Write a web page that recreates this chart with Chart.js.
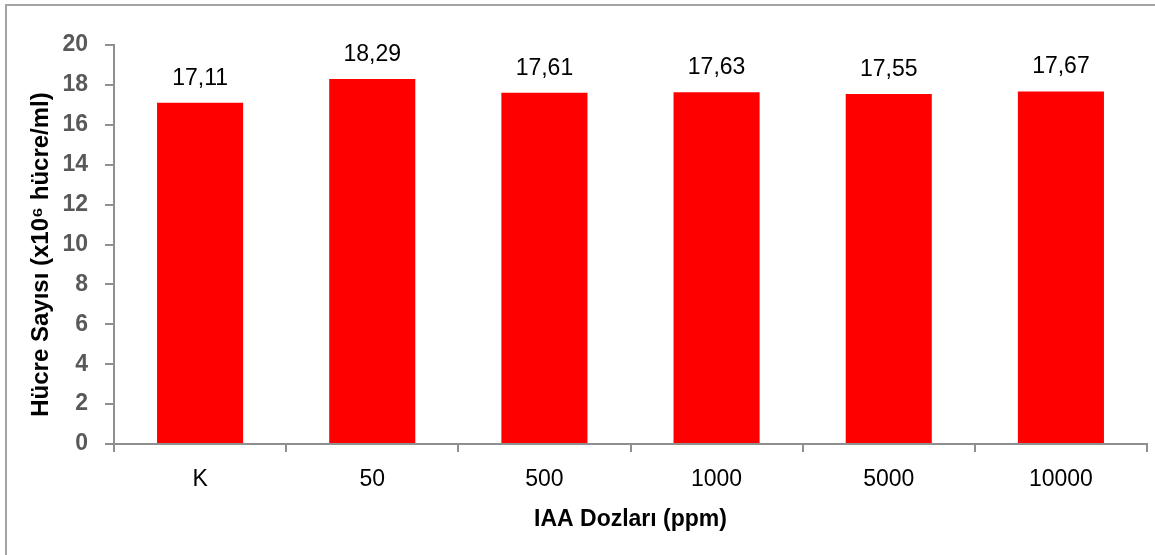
<!DOCTYPE html>
<html>
<head>
<meta charset="utf-8">
<script src="https://cdn.jsdelivr.net/npm/chart.js@4/dist/chart.umd.min.js"></script>
<style>
  html, body { margin: 0; padding: 0; background: #ffffff; }
  canvas { display: block; }
</style>
</head>
<body>
<canvas id="chart" width="1155" height="555"></canvas>
<script>
// IAA dose groups and measured cell counts (x10^6 cells/ml)
const doses = ['K', '50', '500', '1000', '5000', '10000'];
const cellCounts = [17.11, 18.29, 17.61, 17.63, 17.55, 17.67];
const yTickValues = [0, 2, 4, 6, 8, 10, 12, 14, 16, 18, 20];
const yAxisTitle = 'Hücre Sayısı (x10⁶ hücre/ml)';

const FONT = '"Liberation Sans", Arial, sans-serif';
const AXIS_GRAY = '#8f8f8f';

// white background and the frame around the chart
const framePlugin = {
  id: 'frame',
  beforeDraw(chart) {
    const ctx = chart.ctx;
    ctx.save();
    ctx.fillStyle = '#ffffff';
    ctx.fillRect(0, 0, chart.width, chart.height);
    ctx.strokeStyle = '#a3a3a3';
    ctx.lineWidth = 2;
    ctx.strokeRect(6, 5, chart.width + 20, chart.height + 20);
    ctx.restore();
  }
};

// rotated y-axis title, centred a little below the plot middle
const yTitlePlugin = {
  id: 'yTitle',
  afterDraw(chart) {
    const ctx = chart.ctx;
    const area = chart.chartArea;
    ctx.save();
    ctx.translate(41, (area.top + area.bottom) / 2 + 10);
    ctx.rotate(-Math.PI / 2);
    ctx.font = 'bold 24px ' + FONT;
    ctx.fillStyle = '#000000';
    ctx.textAlign = 'center';
    ctx.textBaseline = 'middle';
    ctx.fillText(yAxisTitle, 0, 0);
    ctx.restore();
  }
};

// value labels above each bar, with decimal comma
const valueLabels = {
  id: 'valueLabels',
  afterDatasetsDraw(chart) {
    const ctx = chart.ctx;
    const meta = chart.getDatasetMeta(0);
    const values = chart.data.datasets[0].data;
    ctx.save();
    ctx.font = '23px ' + FONT;
    ctx.fillStyle = '#000000';
    ctx.textAlign = 'center';
    ctx.textBaseline = 'alphabetic';
    meta.data.forEach((bar, i) => {
      const text = values[i].toFixed(2).replace('.', ',');
      ctx.fillText(text, bar.x, bar.y - 18);
    });
    ctx.restore();
  }
};

new Chart(document.getElementById('chart'), {
  type: 'bar',
  data: {
    labels: doses,
    datasets: [{
      data: cellCounts,
      backgroundColor: '#ff0000',
      borderWidth: 0,
      barPercentage: 0.5,
      categoryPercentage: 1.0
    }]
  },
  options: {
    responsive: false,
    animation: false,
    events: [],
    layout: { padding: { top: 45, right: 8, bottom: 0, left: 0 } },
    plugins: {
      legend: { display: false },
      tooltip: { enabled: false }
    },
    scales: {
      x: {
        offset: true,
        afterFit(scale) { scale.height = 111; },
        grid: {
          offset: true,
          drawOnChartArea: false,
          drawTicks: true,
          tickLength: 8,
          color: AXIS_GRAY,
          lineWidth: 2
        },
        border: { display: true, color: AXIS_GRAY, width: 2 },
        ticks: {
          color: '#000000',
          font: { family: FONT, size: 23 },
          padding: 14,
          maxRotation: 0,
          autoSkip: false
        },
        title: {
          display: true,
          text: 'IAA Dozları (ppm)',
          color: '#000000',
          font: { family: FONT, size: 23, weight: 'bold' },
          padding: { top: 0, bottom: 22 }
        }
      },
      y: {
        min: 0,
        max: 20,
        afterFit(scale) { scale.width = 114; },
        afterBuildTicks(scale) {
          scale.ticks = yTickValues.map(v => ({ value: v }));
        },
        grid: {
          drawOnChartArea: false,
          drawTicks: true,
          tickLength: 9,
          color: AXIS_GRAY,
          lineWidth: 2
        },
        border: { display: true, color: AXIS_GRAY, width: 2 },
        ticks: {
          color: '#595959',
          font: { family: FONT, size: 23, weight: 'bold' },
          padding: 17,
          callback: v => String(v)
        },
        title: { display: false }
      }
    }
  },
  plugins: [framePlugin, yTitlePlugin, valueLabels]
});
</script>
</body>
</html>
